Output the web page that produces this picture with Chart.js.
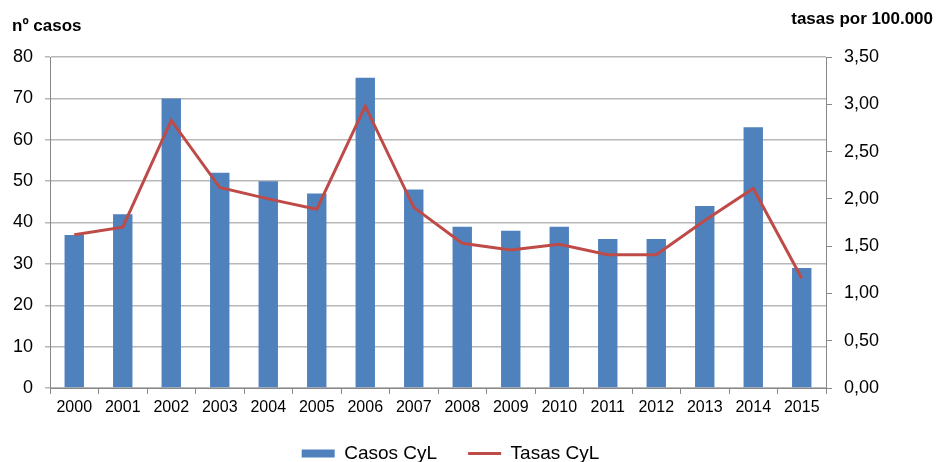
<!DOCTYPE html>
<html><head><meta charset="utf-8">
<script src="https://cdn.jsdelivr.net/npm/chart.js@4"></script>
<style>html,body{margin:0;padding:0;background:#fff}#wrap{width:941px;height:462px}</style>
</head><body><div id="wrap"><canvas id="c" width="941" height="462"></canvas></div>
<script>
const years = ['2000','2001','2002','2003','2004','2005','2006','2007','2008','2009','2010','2011','2012','2013','2014','2015'];
const casos = [37,42,70,52,50,47,75,48,39,38,39,36,36,44,63,29];
const tasas = [1.62,1.70,2.83,2.12,2.00,1.89,2.98,1.91,1.53,1.46,1.52,1.41,1.41,1.77,2.11,1.16];
const leftTitle = 'nº casos';
const rightTitle = 'tasas por 100.000';

const titles = {
  id:'titles',
  afterLayout(chart){
    const lg = chart.legend;
    if (lg) { lg.left -= 20; lg.right -= 20; lg.top -= 8; lg.bottom -= 8; }
  },
  afterDraw(chart){
    const ctx = chart.ctx;
    ctx.save();
    ctx.fillStyle = '#000';
    ctx.font = 'bold 17px "Liberation Sans", Arial, sans-serif';
    ctx.textBaseline = 'alphabetic';
    ctx.textAlign = 'left';
    ctx.fillText(leftTitle, 12, 31);
    ctx.textAlign = 'right';
    ctx.fillText(rightTitle, 933, 24);
    ctx.restore();
  }
};

new Chart(document.getElementById('c'), {
  data: {
    labels: years,
    datasets: [
      {type:'line', label:'Tasas CyL', data:tasas, yAxisID:'y2', borderColor:'#BE4B48', backgroundColor:'#BE4B48', borderWidth:3, pointRadius:0, tension:0, order:0, pointStyle:'line'},
      {type:'bar', label:'Casos CyL', data:casos, yAxisID:'y', backgroundColor:'#4F81BD', borderWidth:0, barPercentage:0.4, categoryPercentage:1, order:1, pointStyle:'rect'}
    ]
  },
  plugins:[titles],
  options: {
    responsive:false, animation:false,
    layout:{padding:{top:57, left:0, right:0, bottom:-19}},
    plugins:{
      tooltip:{enabled:false},
      legend:{position:'bottom', reverse:true,
        labels:{usePointStyle:true, pointStyleWidth:33, boxHeight:8, color:'#000', padding:31,
          font:{family:'"Liberation Sans", Arial, sans-serif', size:19}}}
    },
    scales:{
      x:{grid:{display:true, drawOnChartArea:false, drawTicks:true, tickLength:6, color:'#888', offset:true},
         border:{color:'#888'},
         ticks:{color:'#000', padding:4, maxRotation:0, font:{family:'"Liberation Sans", Arial, sans-serif', size:16}},
         afterFit(s){s.height=33;}},
      y:{position:'left', min:0, max:80, ticks:{stepSize:10, color:'#000', padding:12, font:{family:'"Liberation Sans", Arial, sans-serif', size:18}},
         grid:{color:'#b8b8b8', lineWidth:1.5, tickLength:5}, border:{color:'#888', display:true},
         afterFit(s){s.width=50;}},
      y2:{position:'right', min:0, max:3.5, ticks:{stepSize:0.5, color:'#000', padding:12,
           callback:v=>v.toFixed(2).replace('.',','), font:{family:'"Liberation Sans", Arial, sans-serif', size:18}},
         grid:{drawOnChartArea:false, tickLength:6, color:'#888'}, border:{color:'#888'},
         afterFit(s){s.width=115;}}
    }
  }
});
</script></body></html>
